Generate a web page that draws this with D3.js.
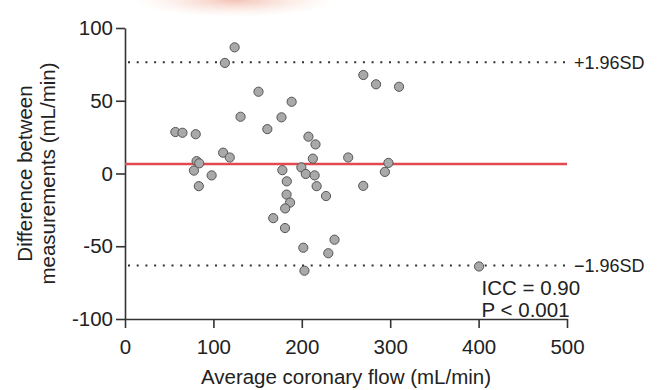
<!DOCTYPE html>
<html>
<head>
<meta charset="utf-8">
<script src="https://cdn.jsdelivr.net/npm/d3@7"></script>
<style>
  html, body { margin: 0; padding: 0; background: #fff; }
  svg { display: block; }
  text { font-family: "Liberation Sans", Arial, sans-serif; fill: #222; }
</style>
</head>
<body>
<div id="chart"></div>
<script>
// average flow (x) vs difference (y)
const avgFlow = [57, 65, 80, 81, 84, 78, 98, 83.5, 111, 118.5, 113, 124, 130.7, 151, 161, 177, 188.5,
    178, 183, 182.8, 186.7, 181.2, 167.7, 181, 199.5, 204.5, 207.5, 215.5, 212.5, 214.5, 216.8,
    227.4, 201.7, 203, 230, 237, 252.5, 269.5, 269.6, 284, 310, 298, 294, 400.5];
const diffFlow = [28.5, 28, 27, 8.5, 7, 2, -1.3, -8.7, 14.3, 11, 76, 86.7, 39, 56.2, 30.5, 38.6, 49.3,
    2.3, -5.4, -14.5, -20, -24, -30.7, -37.5, 4.2, -0.3, 25.3, 20, 10.2, -1.3, -8.7,
    -15.5, -51, -66.8, -54.8, -45.5, 11, -8.5, 67.7, 61.3, 59.6, 7.3, 1.1, -63.9];

const meanDiff = 6.6;
const upperLoA = 76.4;
const lowerLoA = -63.2;
const loaLabels = ["+1.96SD", "\u22121.96SD"];
const statLines = ["ICC = 0.90", "P < 0.001"];

const xTicks = [0, 100, 200, 300, 400, 500];
const yTicks = [-100, -50, 0, 50, 100];

const W = 663, H = 390;

const svg = d3.select("#chart").append("svg")
    .attr("width", W)
    .attr("height", H);

// faint logo smudge at the top edge
const defs = svg.append("defs");
const grad = defs.append("radialGradient").attr("id", "smudge");
grad.append("stop").attr("offset", "0%").attr("stop-color", "#e5775a").attr("stop-opacity", 0.45);
grad.append("stop").attr("offset", "100%").attr("stop-color", "#f4c0a8").attr("stop-opacity", 0);
svg.append("ellipse")
    .attr("cx", 235).attr("cy", 0).attr("rx", 100).attr("ry", 17)
    .attr("fill", "url(#smudge)");

const x = d3.scaleLinear().domain([0, 500]).range([125, 567]);
const y = d3.scaleLinear().domain([-100, 100]).range([319, 28]);

const bigFont = 20.5;
const smallFont = 18;

// axes (hyphen minus like the original)
const fmt = d => String(d);

const yAxis = svg.append("g")
    .attr("transform", `translate(${x(0)},0)`)
    .call(d3.axisLeft(y).tickValues(yTicks).tickFormat(fmt).tickSize(9).tickSizeOuter(0).tickPadding(3));

const xAxis = svg.append("g")
    .attr("transform", `translate(0,${y(-100)})`)
    .call(d3.axisBottom(x).tickValues(xTicks).tickFormat(fmt).tickSize(9).tickSizeOuter(0).tickPadding(11));

[xAxis, yAxis].forEach(g => {
    g.select(".domain").attr("stroke", "#333").attr("stroke-width", 1.6);
    g.selectAll(".tick line").attr("stroke", "#333").attr("stroke-width", 1.6);
    g.selectAll(".tick text")
        .attr("font-size", bigFont)
        .attr("font-family", "Liberation Sans, Arial, sans-serif")
        .attr("fill", "#222");
});

// limits of agreement
[upperLoA, lowerLoA].forEach((v, i) => {
    svg.append("line")
        .attr("x1", x(0) + 3).attr("x2", x(500))
        .attr("y1", y(v)).attr("y2", y(v))
        .attr("stroke", "#333")
        .attr("stroke-width", 2)
        .attr("stroke-dasharray", "2,6.7");
    svg.append("text")
        .attr("x", x(500) + 7)
        .attr("y", y(v))
        .attr("dy", "0.35em")
        .attr("font-size", smallFont)
        .text(loaLabels[i]);
});

// mean difference
svg.append("line")
    .attr("x1", x(0)).attr("x2", x(500))
    .attr("y1", y(meanDiff)).attr("y2", y(meanDiff))
    .attr("stroke", "#e34a50")
    .attr("stroke-width", 2.5);

// points
svg.append("g")
    .selectAll("circle")
    .data(avgFlow)
    .join("circle")
    .attr("cx", d => x(d))
    .attr("cy", (d, i) => y(diffFlow[i]))
    .attr("r", 4.6)
    .attr("fill", "#a9a9a9")
    .attr("stroke", "#555")
    .attr("stroke-width", 1);

// stats
statLines.forEach((s, i) => {
    svg.append("text")
        .attr("x", x(400) + 3)
        .attr("y", 288 + i * 22)
        .attr("dy", "0.35em")
        .attr("font-size", bigFont)
        .text(s);
});

// axis titles
svg.append("text")
    .attr("x", (x(0) + x(500)) / 2)
    .attr("y", 377)
    .attr("dy", "0.35em")
    .attr("text-anchor", "middle")
    .attr("font-size", bigFont)
    .text("Average coronary flow (mL/min)");

const yTitle = svg.append("text")
    .attr("transform", `translate(25,${y(0)}) rotate(-90)`)
    .attr("text-anchor", "middle")
    .attr("font-size", bigFont);
yTitle.append("tspan").attr("x", 0).attr("dy", "0.35em").text("Difference between");
yTitle.append("tspan").attr("x", 0).attr("dy", "1.1em").text("measurements (mL/min)");
</script>
</body>
</html>
